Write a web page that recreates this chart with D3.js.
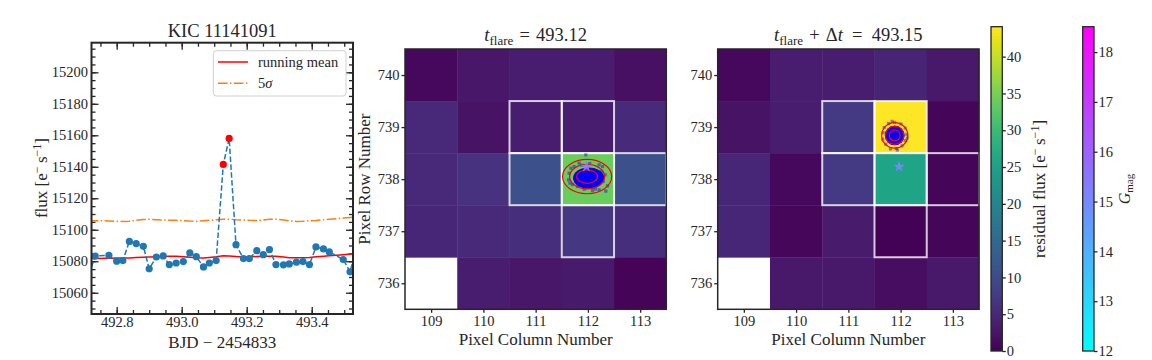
<!DOCTYPE html>
<html>
<head>
<meta charset="utf-8">
<script src="https://cdn.jsdelivr.net/npm/d3@7"></script>
<style>
  body { margin: 0; background: #fff; }
  svg, text { font-family: "Liberation Serif", "Times New Roman", serif; }
</style>
</head>
<body>
<svg id="chart" width="1152" height="360"></svg>
<script>
// ---- light curve (BJD - 2454833, flux in e-/s)
var time = [492.714, 492.734, 492.776, 492.800, 492.819, 492.839, 492.860, 492.882, 492.900, 492.922,
            492.943, 492.962, 492.983, 493.005, 493.025, 493.045, 493.067, 493.085, 493.106, 493.128,
            493.146, 493.167, 493.190, 493.208, 493.231, 493.251, 493.270, 493.290, 493.313, 493.331,
            493.353, 493.373, 493.393, 493.413, 493.436, 493.454, 493.497, 493.518, 493.538];
var flux = [15071.5, 15083.3, 15083.8, 15080.0, 15080.4, 15092.6, 15091.2, 15089.5, 15075.2, 15082.7,
            15083.4, 15077.9, 15078.9, 15079.8, 15085.3, 15082.9, 15076.4, 15078.9, 15080.4, 15141.5,
            15158.0, 15090.5, 15081.7, 15081.7, 15086.7, 15084.2, 15087.4, 15077.9, 15077.7, 15078.3,
            15079.4, 15079.8, 15077.9, 15089.1, 15087.8, 15085.9, 15081.1, 15073.3, 15088.7];
var runMean = [15081.6, 15081.8, 15081.9, 15082.0, 15082.0, 15082.1, 15082.4, 15082.6, 15082.7, 15082.9,
               15083.0, 15083.1, 15083.2, 15082.9, 15082.6, 15082.3, 15082.1, 15082.4, 15082.8, 15083.5,
               15083.4, 15083.0, 15082.7, 15082.8, 15083.0, 15083.1, 15083.2, 15083.2, 15082.7, 15082.3,
               15082.2, 15082.3, 15082.4, 15082.8, 15083.2, 15083.5, 15084.2, 15084.6, 15085.0];
var fiveSigma = [15105.8, 15105.8, 15105.6, 15105.4, 15105.3, 15105.4, 15106.0, 15106.5, 15106.7, 15106.4,
                 15106.2, 15106.1, 15106.0, 15105.8, 15105.5, 15105.3, 15105.7, 15106.0, 15106.3, 15106.6,
                 15106.7, 15106.4, 15106.2, 15106.0, 15105.9, 15106.2, 15106.6, 15106.7, 15106.2, 15105.7,
                 15105.3, 15105.4, 15105.7, 15105.9, 15106.3, 15106.7, 15107.4, 15107.8, 15108.2];
var flareIdx = [19, 20];

var lcYTicks = [15060, 15080, 15100, 15120, 15140, 15160, 15180, 15200];
var lcXTicks = [492.8, 493.0, 493.2, 493.4];

// ---- pixel images (rows top to bottom), null = no data
var cols = [109, 110, 111, 112, 113];
var rows = [740, 739, 738, 737, 736];
var fluxFlare = [
  [1.0, 2.6, 3.5, 3.3, 1.8],
  [5.0, 2.2, 3.3, 3.3, 5.3],
  [5.0, 6.2, 10.8, 34.0, 10.8],
  [4.8, 5.0, 5.7, 7.0, 5.8],
  [null, 3.5, 2.6, 3.0, 0.4]
];
var fluxAfter = [
  [1.0, 3.3, 3.3, 4.4, 2.9],
  [2.2, 3.5, 7.5, 44.07, 0.6],
  [4.8, 1.0, 7.5, 25.8, 0.6],
  [4.8, 0.8, 3.1, 0.2, 0.6],
  [null, 2.9, 2.9, 1.5, 2.9]
];
var apertureCol = [111, 112, 111, 112, 113, 112];
var apertureRow = [739, 739, 738, 738, 738, 737];

// catalogue star
var starCol = [111.97], starRow = [738.24], starG = [15.1];

// centroid clouds (centre, contour radii, scatter offsets in pixels)
var cloudFlare = {
  col: 111.985, row: 738.05,
  coreRx: 0.30, coreRy: 0.205, coreDx: 0.03, coreDy: -0.03,
  rx: [0.47, 0.335, 0.20], ry: [0.33, 0.235, 0.13],
  dCol: [-0.025, -0.31, -0.345, -0.356, -0.33, -0.28, -0.184, -0.057, 0.103, 0.23, 0.358, 0.39, 0.345,
         0.295, -0.153, -0.249, 0.23, 0.307, -0.216, 0.05, -0.1, 0.16, 0.28],
  dRow: [0.417, 0.16, 0.065, -0.063, -0.127, -0.154, -0.192, -0.242, -0.269, -0.255, -0.28, -0.179, 0.033,
         0.192, 0.257, 0.192, 0.225, -0.096, -0.096, 0.25, 0.22, -0.24, 0.1]
};
var cloudAfter = {
  col: 111.887, row: 738.84,
  coreRx: 0.19, coreRy: 0.19, coreDx: 0, coreDy: 0,
  rx: [0.25, 0.176, 0.105], ry: [0.245, 0.172, 0.105],
  dCol: [-0.22, -0.2, -0.12, 0.0, 0.12, 0.2, 0.23, 0.2, 0.14, 0.03, -0.08, -0.17, -0.23, 0.05, -0.05, 0.24],
  dRow: [0.05, 0.15, 0.23, 0.25, 0.22, 0.14, 0.02, -0.1, -0.2, -0.25, -0.26, -0.17, -0.07, -0.28, 0.27, -0.05]
};

var cbFluxTicks = [0, 5, 10, 15, 20, 25, 30, 35, 40];
var cbGTicks = [12, 13, 14, 15, 16, 17, 18];

var svg = d3.select("#chart");
var ink = "#262626";
var fontTick = "14.5px";
var fontLabel = "17px";

function styleAxis(a) {
  a.select(".domain").remove();
  a.attr("font-family", null).attr("font-size", fontTick);
  a.selectAll("line").attr("stroke", ink).attr("stroke-width", 1.3);
  a.selectAll("text").attr("fill", ink);
  return a;
}

// ================= left panel: light curve =================
var lc = {left: 91.5, right: 353, top: 42.7, bottom: 314};
var xLc = d3.scaleLinear().domain([492.7225, 493.527]).range([lc.left, lc.right]);
var yLc = d3.scaleLinear().domain([15046.5, 15218.8]).range([lc.bottom, lc.top]);

svg.append("clipPath").attr("id", "lc-clip")
   .append("rect")
   .attr("x", lc.left).attr("y", lc.top)
   .attr("width", lc.right - lc.left).attr("height", lc.bottom - lc.top);

var xMinor = d3.range(492.75, 493.52, 0.05);
var yMinor = d3.range(15050, 15216, 5);

// inward ticks on all four sides
styleAxis(svg.append("g").attr("transform", "translate(0," + lc.bottom + ")")
  .call(d3.axisBottom(xLc).tickValues(xMinor).tickSize(-4).tickFormat("")));
styleAxis(svg.append("g").attr("transform", "translate(0," + lc.bottom + ")")
  .call(d3.axisBottom(xLc).tickValues(lcXTicks).tickSize(-7).tickPadding(3).tickFormat(d3.format(".1f"))));
styleAxis(svg.append("g").attr("transform", "translate(0," + lc.top + ")")
  .call(d3.axisTop(xLc).tickValues(xMinor).tickSize(-4).tickFormat("")));
styleAxis(svg.append("g").attr("transform", "translate(0," + lc.top + ")")
  .call(d3.axisTop(xLc).tickValues(lcXTicks).tickSize(-7).tickFormat("")));
styleAxis(svg.append("g").attr("transform", "translate(" + lc.left + ",0)")
  .call(d3.axisLeft(yLc).tickValues(yMinor).tickSize(-4).tickFormat("")));
styleAxis(svg.append("g").attr("transform", "translate(" + lc.left + ",0)")
  .call(d3.axisLeft(yLc).tickValues(lcYTicks).tickSize(-7).tickPadding(3.5).tickFormat(d3.format("d"))));
styleAxis(svg.append("g").attr("transform", "translate(" + lc.right + ",0)")
  .call(d3.axisRight(yLc).tickValues(yMinor).tickSize(-4).tickFormat("")));
styleAxis(svg.append("g").attr("transform", "translate(" + lc.right + ",0)")
  .call(d3.axisRight(yLc).tickValues(lcYTicks).tickSize(-7).tickFormat("")));

var lcData = time.map(function(t, i) {
  return {t: t, f: flux[i], m: runMean[i], s: fiveSigma[i], flare: flareIdx.indexOf(i) >= 0};
});

var plot = svg.append("g").attr("clip-path", "url(#lc-clip)");

plot.append("path")
    .datum(lcData)
    .attr("fill", "none")
    .attr("stroke", "#ff0000")
    .attr("stroke-width", 1.5)
    .attr("d", d3.line().x(function(d) { return xLc(d.t); }).y(function(d) { return yLc(d.m); }));

plot.append("path")
    .datum(lcData)
    .attr("fill", "none")
    .attr("stroke", "#ff7f0e")
    .attr("stroke-width", 1.5)
    .attr("stroke-dasharray", "9.6,2.4,1.5,2.4")
    .attr("d", d3.line().x(function(d) { return xLc(d.t); }).y(function(d) { return yLc(d.s); }));

plot.append("path")
    .datum(lcData)
    .attr("fill", "none")
    .attr("stroke", "#1f77b4")
    .attr("stroke-width", 1.5)
    .attr("stroke-dasharray", "5.5,2.4")
    .attr("d", d3.line().x(function(d) { return xLc(d.t); }).y(function(d) { return yLc(d.f); }));

plot.selectAll("circle.pt")
    .data(lcData)
    .enter().append("circle")
    .attr("class", "pt")
    .attr("cx", function(d) { return xLc(d.t); })
    .attr("cy", function(d) { return yLc(d.f); })
    .attr("r", 3.6)
    .attr("fill", function(d) { return d.flare ? "#ff0000" : "#1f77b4"; });

svg.append("rect")
   .attr("x", lc.left).attr("y", lc.top)
   .attr("width", lc.right - lc.left).attr("height", lc.bottom - lc.top)
   .attr("fill", "none").attr("stroke", ink).attr("stroke-width", 2);

// legend
var leg = svg.append("g");
leg.append("rect")
   .attr("x", 213.3).attr("y", 50.7).attr("width", 132.7).attr("height", 45.3)
   .attr("rx", 3).attr("fill", "#fff").attr("fill-opacity", 0.8)
   .attr("stroke", "#d0d0d0").attr("stroke-width", 1);
leg.append("line").attr("x1", 218).attr("x2", 248).attr("y1", 62).attr("y2", 62)
   .attr("stroke", "#ff0000").attr("stroke-width", 1.5);
leg.append("line").attr("x1", 218).attr("x2", 248).attr("y1", 83.3).attr("y2", 83.3)
   .attr("stroke", "#ff7f0e").attr("stroke-width", 1.5).attr("stroke-dasharray", "9.6,2.4,1.5,2.4");
leg.append("text").attr("x", 258).attr("y", 66.5).attr("font-size", "14.5px").attr("fill", ink)
   .text("running mean");
var sig = leg.append("text").attr("x", 258).attr("y", 88).attr("font-size", "14.5px").attr("fill", ink);
sig.append("tspan").text("5");
sig.append("tspan").attr("font-style", "italic").text("σ");

// titles / labels
svg.append("text").attr("x", (lc.left + lc.right) / 2).attr("y", 37)
   .attr("text-anchor", "middle").attr("font-size", "18.5px").attr("fill", ink)
   .text("KIC 11141091");
svg.append("text").attr("x", (lc.left + lc.right) / 2).attr("y", 347.5)
   .attr("text-anchor", "middle").attr("font-size", fontLabel).attr("fill", ink)
   .text("BJD \u2212 2454833");

function fluxUnitLabel(el, prefix) {
  el.append("tspan").text(prefix + " [e");
  el.append("tspan").attr("dy", -6).attr("font-size", "12px").text("\u2212");
  el.append("tspan").attr("dy", 6).text("\u2009s");
  el.append("tspan").attr("dy", -6).attr("font-size", "12px").text("\u22121");
  el.append("tspan").attr("dy", 6).text("]");
}
var fl = svg.append("text").attr("transform", "translate(47,178) rotate(-90)")
   .attr("text-anchor", "middle").attr("font-size", fontLabel).attr("fill", ink);
fluxUnitLabel(fl, "flux");

// ================= pixel image panels =================
var viridis = d3.scaleSequential(d3.interpolateViridis).domain([0, 44.07]);
var coolMap = d3.scaleSequential(d3.interpolateRgb("#00ffff", "#ff00ff")).domain([12, 18.51]);

function heatPanel(x0, values, cloud, title, showYLabel) {
  var top = 49, bottom = 309.3, w = 261.3;
  var xH = d3.scaleLinear().domain([108.5, 113.5]).range([x0, x0 + w]);
  var yH = d3.scaleLinear().domain([735.5, 740.5]).range([bottom, top]);
  var g = svg.append("g");

  var cells = [];
  rows.forEach(function(r, i) {
    cols.forEach(function(c, j) {
      if (values[i][j] !== null) cells.push({c: c, r: r, v: values[i][j]});
    });
  });
  g.selectAll("rect.cell")
   .data(cells)
   .enter().append("rect")
   .attr("class", "cell")
   .attr("x", function(d) { return xH(d.c - 0.5); })
   .attr("y", function(d) { return yH(d.r + 0.5); })
   .attr("width", function(d) { return xH(d.c + 0.5) - xH(d.c - 0.5) + 0.4; })
   .attr("height", function(d) { return yH(d.r - 0.5) - yH(d.r + 0.5) + 0.4; })
   .attr("fill", function(d) { return viridis(d.v); });

  // aperture outline
  g.selectAll("rect.ap")
   .data(apertureCol.map(function(c, i) { return {c: c, r: apertureRow[i]}; }))
   .enter().append("rect")
   .attr("class", "ap")
   .attr("x", function(d) { return xH(d.c - 0.5); })
   .attr("y", function(d) { return yH(d.r + 0.5); })
   .attr("width", function(d) { return xH(d.c + 0.5) - xH(d.c - 0.5); })
   .attr("height", function(d) { return yH(d.r - 0.5) - yH(d.r + 0.5); })
   .attr("fill", "none")
   .attr("stroke", "#ffffff")
   .attr("stroke-opacity", 0.78)
   .attr("stroke-width", 2);

  // centroid cloud
  var pxX = xH(1) - xH(0), pxY = yH(0) - yH(1);
  g.append("ellipse")
   .attr("cx", xH(cloud.col + cloud.coreDx)).attr("cy", yH(cloud.row + cloud.coreDy))
   .attr("rx", cloud.coreRx * pxX).attr("ry", cloud.coreRy * pxY)
   .attr("fill", "#0000ff");
  g.selectAll("rect.dot")
   .data(cloud.dCol.map(function(dc, i) { return {c: cloud.col + dc, r: cloud.row + cloud.dRow[i]}; }))
   .enter().append("rect")
   .attr("class", "dot")
   .attr("x", function(d) { return xH(d.c) - 1.6; })
   .attr("y", function(d) { return yH(d.r) - 1.6; })
   .attr("width", 3.2).attr("height", 3.2)
   .attr("fill", "#0000ff").attr("fill-opacity", 0.45);
  g.selectAll("ellipse.ctr")
   .data(cloud.rx.map(function(rx, i) { return {rx: rx, ry: cloud.ry[i]}; }))
   .enter().append("ellipse")
   .attr("class", "ctr")
   .attr("cx", xH(cloud.col)).attr("cy", yH(cloud.row))
   .attr("rx", function(d) { return d.rx * pxX; })
   .attr("ry", function(d) { return d.ry * pxY; })
   .attr("fill", "none").attr("stroke", "#ff0000").attr("stroke-width", 1.2);

  // catalogue star
  g.selectAll("path.star")
   .data(starCol.map(function(c, i) { return {c: c, r: starRow[i], g: starG[i]}; }))
   .enter().append("path")
   .attr("class", "star")
   .attr("transform", function(d) { return "translate(" + xH(d.c) + "," + yH(d.r) + ")"; })
   .attr("d", d3.symbol().type(d3.symbolStar).size(42))
   .attr("fill", function(d) { return coolMap(d.g); })
   .attr("fill-opacity", 0.9);

  g.append("rect")
   .attr("x", x0).attr("y", top).attr("width", w).attr("height", bottom - top)
   .attr("fill", "none").attr("stroke", ink).attr("stroke-width", 1.5);

  styleAxis(g.append("g").attr("transform", "translate(0," + bottom + ")")
    .call(d3.axisBottom(xH).tickValues(cols).tickSize(3.5).tickPadding(3).tickFormat(d3.format("d"))));
  styleAxis(g.append("g").attr("transform", "translate(" + x0 + ",0)")
    .call(d3.axisLeft(yH).tickValues(rows).tickSize(3.5).tickPadding(2).tickFormat(d3.format("d"))));

  // title: t_flare ...
  var t = g.append("text").attr("x", x0 + w / 2).attr("y", 40.5)
           .attr("text-anchor", "middle").attr("font-size", "18.5px").attr("fill", ink);
  t.append("tspan").attr("font-style", "italic").text("t");
  t.append("tspan").attr("dy", 4).attr("font-size", "13px").text("flare");
  if (title.delta) {
    t.append("tspan").attr("dy", -4).text("\u2004+\u2004\u0394");
    t.append("tspan").attr("font-style", "italic").text("t");
    t.append("tspan").text("\u2002=\u2002" + title.value);
  } else {
    t.append("tspan").attr("dy", -4).text("\u2004=\u2004" + title.value);
  }

  g.append("text").attr("x", x0 + w / 2).attr("y", 345)
   .attr("text-anchor", "middle").attr("font-size", fontLabel).attr("fill", ink)
   .text("Pixel Column Number");
  if (showYLabel) {
    g.append("text").attr("transform", "translate(370," + (top + bottom) / 2 + ") rotate(-90)")
     .attr("text-anchor", "middle").attr("font-size", fontLabel).attr("fill", ink)
     .text("Pixel Row Number");
  }
}

heatPanel(405, fluxFlare, cloudFlare, {value: "493.12", delta: false}, true);
heatPanel(717.7, fluxAfter, cloudAfter, {value: "493.15", delta: true}, false);

// ================= colorbars =================
var defs = svg.append("defs");
function gradient(id, interp) {
  var lg = defs.append("linearGradient").attr("id", id)
               .attr("x1", 0).attr("y1", 1).attr("x2", 0).attr("y2", 0);
  d3.range(0, 1.0001, 0.05).forEach(function(s) {
    lg.append("stop").attr("offset", s).attr("stop-color", interp(s));
  });
}
gradient("grad-viridis", d3.interpolateViridis);
gradient("grad-cool", d3.interpolateRgb("#00ffff", "#ff00ff"));

function colorbar(x, w, grad, scale, ticks) {
  var g = svg.append("g");
  g.append("rect").attr("x", x).attr("y", 26.7).attr("width", w).attr("height", 351 - 26.7)
   .attr("fill", "url(#" + grad + ")");
  g.append("rect").attr("x", x).attr("y", 26.7).attr("width", w).attr("height", 351 - 26.7)
   .attr("fill", "none").attr("stroke", ink).attr("stroke-width", 1.3);
  styleAxis(g.append("g").attr("transform", "translate(" + (x + w) + ",0)")
    .call(d3.axisRight(scale).tickValues(ticks).tickSize(3.5).tickPadding(1).tickFormat(d3.format("d"))));
  return g;
}
var cbFlux = d3.scaleLinear().domain([0, 44.07]).range([351, 26.7]);
var cbG = d3.scaleLinear().domain([12, 18.51]).range([351, 26.7]);
colorbar(991, 11.3, "grad-viridis", cbFlux, cbFluxTicks);
colorbar(1082.7, 11.3, "grad-cool", cbG, cbGTicks);

var rl = svg.append("text").attr("transform", "translate(1045,189) rotate(-90)")
   .attr("text-anchor", "middle").attr("font-size", fontLabel).attr("fill", ink);
fluxUnitLabel(rl, "residual flux");

var gl = svg.append("text").attr("transform", "translate(1130,189) rotate(-90)")
   .attr("text-anchor", "middle").attr("font-size", "16px").attr("fill", ink);
gl.append("tspan").attr("font-style", "italic").text("G");
gl.append("tspan").attr("dy", 3).attr("font-size", "11px").text("mag");
</script>
</body>
</html>
